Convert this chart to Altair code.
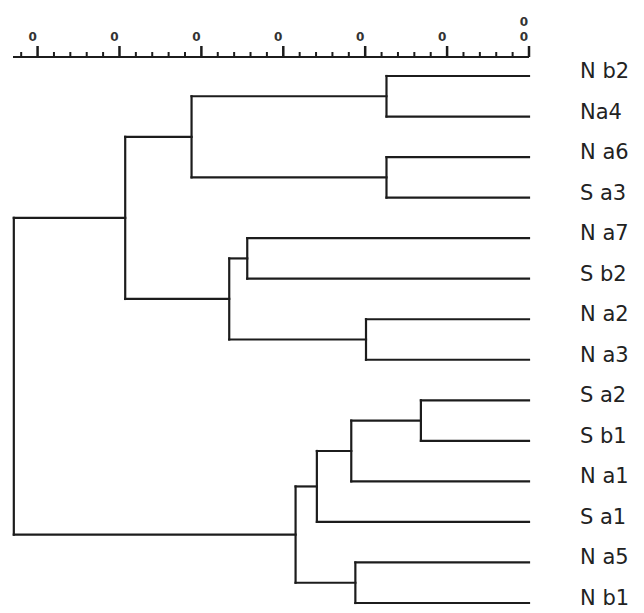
import altair as alt
import pandas as pd

# Leaves (top to bottom)
leaves = ["N b2", "Na4", "N a6", "S a3", "N a7", "S b2", "N a2", "N a3",
          "S a2", "S b1", "N a1", "S a1", "N a5", "N b1"]
leaf_level = 1.0

# Merges m0..m12 (left child, right child, merge level)
merge_left = ["N b2", "N a6", "N a7", "N a2", "S a2", "N a5", "m4", "m6", "m7", "m0", "m2", "m9", "m11"]
merge_right = ["Na4", "S a3", "S b2", "N a3", "S b1", "N b1", "N a1", "S a1", "m5", "m1", "m3", "m10", "m8"]
merge_level = [0.826, 0.826, 0.656, 0.801, 0.868, 0.788, 0.783, 0.741, 0.715, 0.588, 0.634, 0.507, 0.371]

# Ruler (top scale)
ruler_range = [0.37, 1.0]
major_ticks = [0.4, 0.5, 0.6, 0.7, 0.8, 0.9, 1.0]
major_labels = ["0", "0", "0", "0", "0", "0", "0"]
upper_label_ticks = [1.0]
upper_labels = ["0"]
minor_ticks = [0.38, 0.42, 0.44, 0.46, 0.48, 0.52, 0.54, 0.56, 0.58,
               0.62, 0.64, 0.66, 0.68, 0.72, 0.74, 0.76, 0.78,
               0.82, 0.84, 0.86, 0.88, 0.92, 0.94, 0.96, 0.98]

# Build segments from the tree
pos = {name: (leaf_level, i) for i, name in enumerate(leaves)}
segs = []
for k, (l, r, h) in enumerate(zip(merge_left, merge_right, merge_level)):
    xl, yl = pos[l]
    xr, yr = pos[r]
    segs.append(dict(x=h, x2=h, y=yl, y2=yr))
    segs.append(dict(x=h, x2=xl, y=yl, y2=yl))
    segs.append(dict(x=h, x2=xr, y=yr, y2=yr))
    pos[f"m{k}"] = (h, (yl + yr) / 2)
seg_df = pd.DataFrame(segs)
leaf_df = pd.DataFrame({"name": leaves, "x": [leaf_level] * len(leaves), "y": list(range(len(leaves)))})
major_df = pd.DataFrame({"v": major_ticks, "label": major_labels})
upper_df = pd.DataFrame({"v": upper_label_ticks, "label": upper_labels})
minor_df = pd.DataFrame({"v": minor_ticks})
range_df = pd.DataFrame({"a": [ruler_range[0]], "b": [ruler_range[1]]})

xs = alt.Scale(domain=ruler_range, nice=False, zero=False)
ys = alt.Scale(domain=[0, len(leaves) - 1], nice=False, zero=False, reverse=True)

INK = "#1c1c1c"

lines = alt.Chart(seg_df).mark_rule(color=INK, strokeWidth=2.2, strokeCap="square").encode(
    x=alt.X("x:Q", scale=xs, axis=None),
    x2="x2:Q",
    y=alt.Y("y:Q", scale=ys, axis=None),
    y2="y2:Q",
)

labels = alt.Chart(leaf_df).mark_text(
    align="left", baseline="middle", dx=51, dy=-4,
    font="DejaVu Sans", fontSize=21, color="#222222",
).encode(
    x=alt.X("x:Q", scale=xs, axis=None),
    y=alt.Y("y:Q", scale=ys, axis=None),
    text="name:N",
)

ruler_line = alt.Chart(range_df).mark_rule(color=INK, strokeWidth=2).encode(
    x=alt.X("a:Q", scale=xs, axis=None), x2="b:Q",
    y=alt.value(-19),
)
minor_marks = alt.Chart(minor_df).mark_rule(color=INK, strokeWidth=2).encode(
    x=alt.X("v:Q", scale=xs, axis=None),
    y=alt.value(-19), y2=alt.value(-24),
)
major_marks = alt.Chart(major_df).mark_rule(color=INK, strokeWidth=2.5).encode(
    x=alt.X("v:Q", scale=xs, axis=None),
    y=alt.value(-19), y2=alt.value(-30),
)
tick_text_style = dict(align="center", baseline="middle", dx=-5,
                       font="DejaVu Sans", fontSize=12, fontWeight="bold", color="#333333")
major_text = alt.Chart(major_df).mark_text(**tick_text_style).encode(
    x=alt.X("v:Q", scale=xs, axis=None),
    y=alt.value(-39),
    text="label:N",
)
upper_text = alt.Chart(upper_df).mark_text(**tick_text_style).encode(
    x=alt.X("v:Q", scale=xs, axis=None),
    y=alt.value(-54),
    text="label:N",
)

chart = (lines + labels + ruler_line + minor_marks + major_marks + major_text + upper_text).properties(
    width=516, height=527, autosize="none",
    padding={"left": 5, "top": 68, "right": 107, "bottom": 2},
    background="white",
).configure_view(stroke=None)

chart.save("out.html", embed_options={"renderer": "svg", "actions": False})
